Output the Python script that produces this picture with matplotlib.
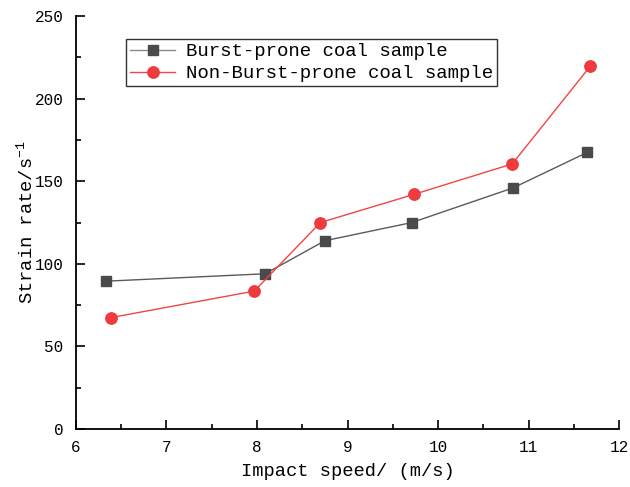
import matplotlib.pyplot as plt
from matplotlib.ticker import MultipleLocator

# impact speed (m/s) and strain rate (1/s)
burst_speed = [6.33, 8.09, 8.75, 9.71, 10.83, 11.65]
burst_rate = [89.5, 94, 114, 125, 146, 167.5]
non_burst_speed = [6.39, 7.97, 8.70, 9.73, 10.82, 11.68]
non_burst_rate = [67.5, 83.5, 125, 142, 160.5, 219.5]

plt.rcParams['font.family'] = ['Liberation Mono', 'DejaVu Sans']
plt.rcParams['mathtext.fontset'] = 'custom'
plt.rcParams['mathtext.rm'] = 'Liberation Mono'

fig = plt.figure(figsize=(6.3, 4.87), dpi=100)
ax = fig.add_axes([0.1206, 0.119, 0.862, 0.848])

ax.plot(burst_speed, burst_rate, color='#5a5a5a', lw=1, marker='s', ms=7.5,
        mfc='#4a4a4a', mec='#4a4a4a', label='Burst-prone coal sample')
ax.plot(non_burst_speed, non_burst_rate, color='#f04448', lw=1, marker='o', ms=8.2,
        mfc='#ee3b3e', mec='#ee3b3e', label='Non-Burst-prone coal sample')

ax.set_xlim(6, 12)
ax.set_ylim(0, 250)
ax.xaxis.set_major_locator(MultipleLocator(1))
ax.xaxis.set_minor_locator(MultipleLocator(0.5))
ax.yaxis.set_major_locator(MultipleLocator(50))
ax.yaxis.set_minor_locator(MultipleLocator(25))
ax.tick_params(which='both', direction='in', width=1.2, labelsize=11.5)
ax.tick_params(which='major', length=6.5)
ax.tick_params(which='minor', length=3.5)
ax.tick_params(axis='x', pad=8)
ax.tick_params(axis='y', pad=9)
for s in ['top', 'right']:
    ax.spines[s].set_visible(False)
for s in ['left', 'bottom']:
    ax.spines[s].set_linewidth(1.3)

ax.set_xlabel('Impact speed/ (m/s)', fontsize=13.5, labelpad=6)
ax.set_ylabel(r'Strain rate/s$^{-1}$', fontsize=13.5, labelpad=-2)

leg = ax.legend(loc='upper left', bbox_to_anchor=(0.092, 0.944), fontsize=13.7,
                frameon=True, fancybox=False, edgecolor='black', borderpad=0.2,
                handlelength=2.4, labelspacing=0.25, handletextpad=0.55, borderaxespad=0)
leg.get_frame().set_linewidth(1)
leg.legend_handles[0].set_color('#8a8a8a')
leg.legend_handles[0].set_markerfacecolor('#4a4a4a')
leg.legend_handles[0].set_markeredgecolor('#4a4a4a')

fig.savefig('out.png', dpi=100)
